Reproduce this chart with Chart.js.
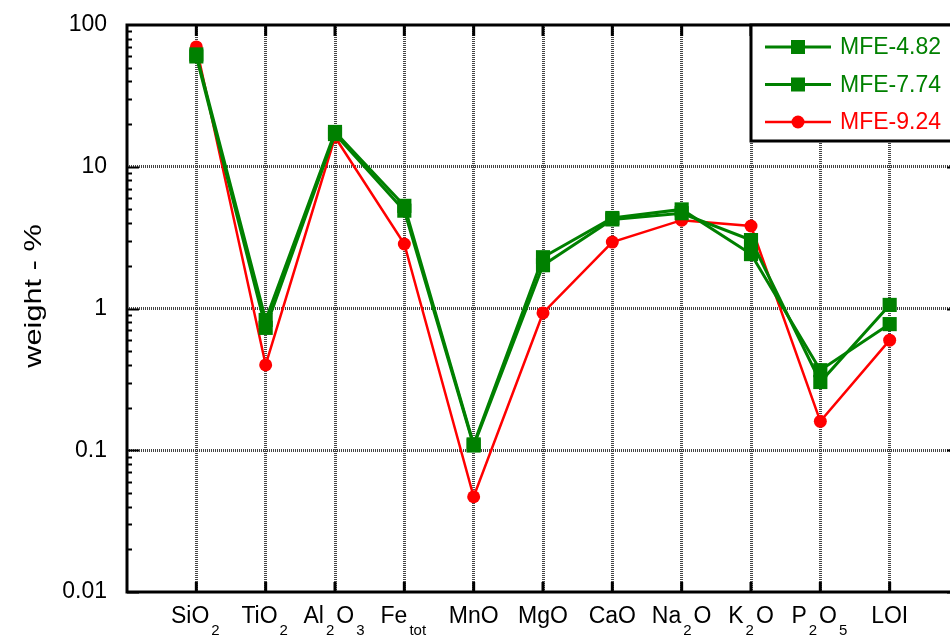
<!DOCTYPE html>
<html>
<head>
<meta charset="utf-8">
<script src="https://cdn.jsdelivr.net/npm/chart.js@4.4.0/dist/chart.umd.min.js"></script>
<style>
  html, body { margin:0; padding:0; background:#fff; overflow:hidden; }
  #wrap { width:969px; height:637px; }
</style>
</head>
<body>
<div id="wrap"><canvas id="oxideChart" width="969" height="637"></canvas></div>
<script>
// categories, {..} marks a subscript
const oxides = ['SiO{2}', 'TiO{2}', 'Al{2}O{3}', 'Fe{tot}', 'MnO', 'MgO', 'CaO', 'Na{2}O', 'K{2}O', 'P{2}O{5}', 'LOI'];

// weight-%
const mfe482 = [62, 0.83, 17.6, 5.3, 0.11, 2.3, 4.35, 5.0, 2.42, 0.367, 0.776];
const mfe774 = [60, 0.73, 17.0, 4.9, 0.108, 2.02, 4.25, 4.7, 3.04, 0.303, 1.06];
const mfe924 = [70, 0.40, 16.2, 2.85, 0.047, 0.93, 2.94, 4.2, 3.82, 0.16, 0.598];

const yTicks = [0.01, 0.1, 1, 10, 100];
const yTitle = 'weight - %';

const FONT = "'Liberation Sans', Arial, sans-serif";
const GREEN = '#008000';
const RED = '#ff0000';

function toPoints(arr) {
  return arr.map((v, i) => ({ x: i + 1, y: v }));
}

// frame, inward ticks, subscripted category labels, axis title, legend box
const framePlugin = {
  id: 'frame',
  afterDraw(chart) {
    const ctx = chart.ctx;
    const a = chart.chartArea;
    const xs = chart.scales.x;
    const ys = chart.scales.y;
    ctx.save();

    // minor / major ticks on left + right
    ctx.strokeStyle = '#000';
    ctx.lineWidth = 2;
    for (let e = -2; e < 2; e++) {
      for (let k = 1; k <= 9; k++) {
        const v = k * Math.pow(10, e);
        const py = Math.round(ys.getPixelForValue(v)) + 0.5;
        const len = k === 1 ? 12 : 5;
        ctx.beginPath();
        ctx.moveTo(a.left, py); ctx.lineTo(a.left + len, py);
        ctx.moveTo(a.right, py); ctx.lineTo(a.right - len, py);
        ctx.stroke();
      }
    }
    // category ticks top + bottom
    ctx.lineWidth = 3;
    oxides.forEach((lab, i) => {
      const px = xs.getPixelForValue(i + 1);
      ctx.beginPath();
      ctx.moveTo(px, a.top); ctx.lineTo(px, a.top + 11);
      ctx.moveTo(px, a.bottom); ctx.lineTo(px, a.bottom - 10);
      ctx.stroke();
    });

    // frame
    ctx.lineWidth = 3;
    ctx.strokeRect(a.left, a.top, a.right - a.left, a.bottom - a.top);

    // x labels with subscripts
    ctx.fillStyle = '#000';
    ctx.textBaseline = 'alphabetic';
    ctx.textAlign = 'left';
    const mainFont = '23px ' + FONT;
    const subFont = '15px ' + FONT;
    oxides.forEach((lab, i) => {
      const parts = lab.split(/(\{[^}]*\})/).filter(s => s.length);
      const segs = parts.map(p => {
        const sub = p.startsWith('{');
        const text = sub ? p.slice(1, -1) : p;
        ctx.font = sub ? subFont : mainFont;
        return { text, sub, w: ctx.measureText(text).width + (sub ? 4 : 0) };
      });
      const total = segs.reduce((s, g) => s + g.w, 0);
      let px = xs.getPixelForValue(i + 1) - total / 2;
      segs.forEach(g => {
        ctx.font = g.sub ? subFont : mainFont;
        ctx.fillText(g.text, px + (g.sub ? 2 : 0), g.sub ? 635 : 623);
        px += g.w;
      });
    });

    // y axis title (stretched along the text like the original)
    ctx.save();
    ctx.translate(34, 296);
    ctx.rotate(-Math.PI / 2);
    ctx.scale(1.28, 1);
    ctx.font = '24px ' + FONT;
    ctx.textAlign = 'center';
    ctx.textBaseline = 'middle';
    ctx.fillText(yTitle, 0, 0);
    ctx.restore();

    // legend
    const bx = 751, by = a.top;
    const bh = 116;
    ctx.fillStyle = '#fff';
    ctx.fillRect(bx, by, a.right + 10 - bx, bh);
    ctx.lineWidth = 3;
    ctx.strokeStyle = '#000';
    ctx.strokeRect(bx, by, a.right + 10 - bx, bh);
    chart.data.datasets.forEach((ds, i) => {
      const ry = by + 22 + i * 37.5;
      ctx.strokeStyle = ds.borderColor;
      ctx.lineWidth = ds.borderWidth;
      ctx.beginPath();
      ctx.moveTo(765, ry); ctx.lineTo(831, ry);
      ctx.stroke();
      ctx.fillStyle = ds.borderColor;
      if (ds.pointStyle === 'rect') {
        ctx.fillRect(798 - 7, ry - 7, 14, 14);
      } else {
        ctx.beginPath();
        ctx.arc(798, ry, 6.5, 0, Math.PI * 2);
        ctx.fill();
      }
      ctx.font = '23px ' + FONT;
      ctx.textAlign = 'left';
      ctx.textBaseline = 'middle';
      ctx.fillText(ds.label, 840, ry + 1);
    });
    ctx.restore();
  }
};

const gridDash = [1, 1];
const gridColor = '#444';

new Chart(document.getElementById('oxideChart').getContext('2d'), {
  type: 'line',
  data: {
    datasets: [
      { label: 'MFE-4.82', data: toPoints(mfe482), borderColor: GREEN, backgroundColor: GREEN,
        borderWidth: 3, pointStyle: 'rect', pointRadius: 10, pointBorderWidth: 0 },
      { label: 'MFE-7.74', data: toPoints(mfe774), borderColor: GREEN, backgroundColor: GREEN,
        borderWidth: 3, pointStyle: 'rect', pointRadius: 10, pointBorderWidth: 0 },
      { label: 'MFE-9.24', data: toPoints(mfe924), borderColor: RED, backgroundColor: RED,
        borderWidth: 2.5, pointStyle: 'circle', pointRadius: 6.5, pointBorderWidth: 0 }
    ]
  },
  options: {
    responsive: false,
    animation: false,
    devicePixelRatio: 1,
    layout: { padding: { left: 0, top: 25, right: 7, bottom: 0 } },
    plugins: { legend: { display: false }, tooltip: { enabled: false } },
    scales: {
      x: {
        type: 'linear', min: 0, max: oxides.length + 1,
        ticks: { display: false, stepSize: 1 },
        afterBuildTicks: s => { s.ticks = oxides.map((o, i) => ({ value: i + 1 })); },
        afterFit: s => { s.height = 45; s.paddingLeft = 0; s.paddingRight = 0; },
        grid: { color: gridColor, lineWidth: 3, drawTicks: false },
        border: { display: false, dash: gridDash }
      },
      y: {
        type: 'logarithmic', min: yTicks[0], max: yTicks[yTicks.length - 1],
        afterBuildTicks: s => { s.ticks = yTicks.map(v => ({ value: v })); },
        afterFit: s => { s.width = 127; s.paddingTop = 0; s.paddingBottom = 0; },
        ticks: {
          callback: v => String(v),
          font: { family: FONT, size: 23 }, color: '#000', padding: 20
        },
        title: { display: false },
        grid: {
          color: c => (c.tick && (c.tick.value === yTicks[0] || c.tick.value === yTicks[yTicks.length - 1])) ? 'rgba(0,0,0,0)' : gridColor,
          lineWidth: 3, drawTicks: false
        },
        border: { display: false, dash: gridDash }
      }
    }
  },
  plugins: [framePlugin]
});
</script>
</body>
</html>
